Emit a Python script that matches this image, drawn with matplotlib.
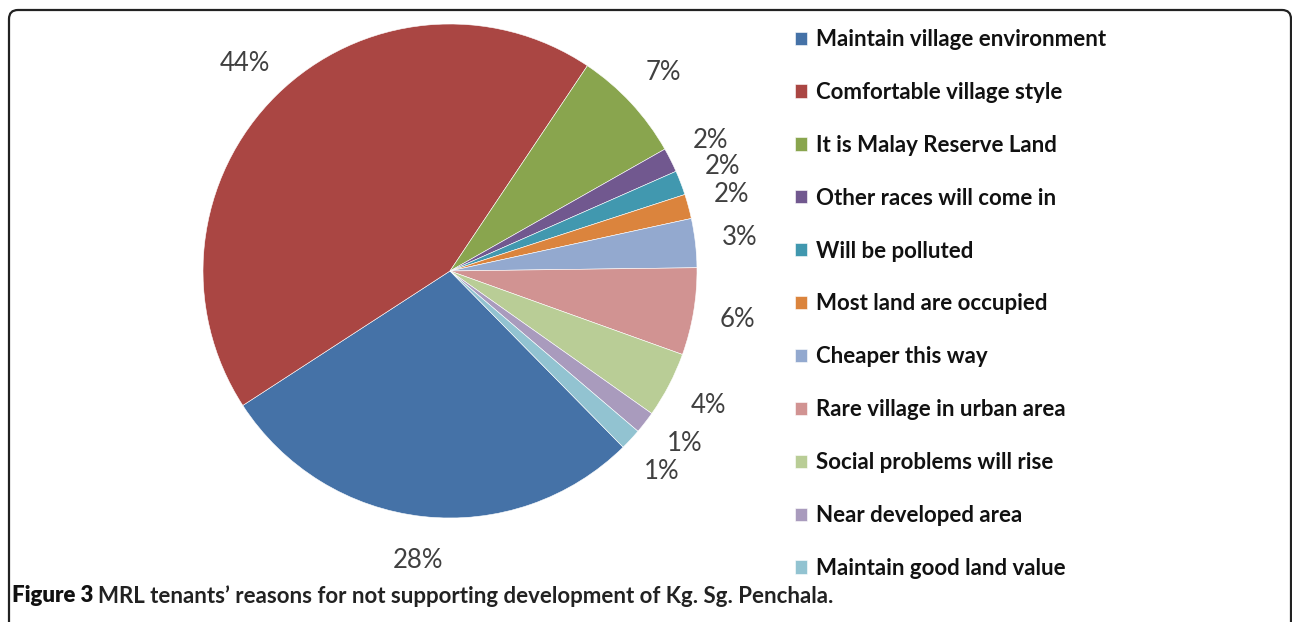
import matplotlib
matplotlib.use("Agg")
import numpy as np
import matplotlib.pyplot as plt
from matplotlib.patches import FancyBboxPatch
from matplotlib.transforms import IdentityTransform

categories = ["Maintain village environment", "Comfortable village style",
              "It is Malay Reserve Land", "Other races will come in",
              "Will be polluted", "Most land are occupied", "Cheaper this way",
              "Rare village in urban area", "Social problems will rise",
              "Near developed area", "Maintain good land value"]
values = [28.2, 43.55, 7.4, 1.6, 1.6, 1.6, 3.2, 5.7, 4.3, 1.45, 1.4]
colors = ["#4572A7", "#AA4643", "#89A54E", "#71588F", "#4198AF", "#DB843D",
          "#93A9CF", "#D19392", "#B9CD96", "#A99BBD", "#92C3D1"]
caption_bold = "Figure 3"
caption_rest = "MRL tenants\u2019 reasons for not supporting development of Kg. Sg. Penchala."

W, H = 1292, 622
fig = plt.figure(figsize=(W / 100, H / 100), dpi=100)
fig.patch.set_facecolor("white")

cx, cy, R = 450, 271, 247
PCT_DIST = 1.18
ax = fig.add_axes([(cx - R) / W, (H - cy - R) / H, 2 * R / W, 2 * R / H])
wedges, texts, autotexts = ax.pie(
    values, colors=colors, startangle=-45.5, counterclock=False,
    autopct=lambda p: f"{p:.0f}%", pctdistance=PCT_DIST,
    wedgeprops=dict(linewidth=0.4, edgecolor="white"),
    textprops=dict(fontsize=18.5, color="#404040", family="Lato"))
ax.set_xlim(-1, 1)
ax.set_ylim(-1, 1)
ax.axis("off")

# spread the two tiny neighbouring labels apart a little (angle nudges, degrees)
nudges = {9: 1.6, 10: -0.4}
for i, d in nudges.items():
    w = wedges[i]
    ang = np.deg2rad((w.theta1 + w.theta2) / 2 + d)
    autotexts[i].set_position((PCT_DIST * np.cos(ang), PCT_DIST * np.sin(ang)))

leg = fig.legend(wedges, categories, loc="upper left",
                 bbox_to_anchor=(795 / W, 1 - 29 / H), frameon=False,
                 borderpad=0, borderaxespad=0, handlelength=0.54,
                 handleheight=0.54, handletextpad=0.4, labelspacing=1.435,
                 prop=dict(family="Lato", weight="bold", size=16))
for t in leg.get_texts():
    t.set_color("#111111")

# border box (open at bottom)
box = FancyBboxPatch((9, -30), 1291 - 9, (H - 10) + 30,
                     boxstyle="round,pad=0,rounding_size=9",
                     transform=IdentityTransform(), fill=False,
                     edgecolor="#222222", linewidth=1.6, clip_on=False)
fig.add_artist(box)

t1 = fig.text(12 / W, 1 - 596 / H, caption_bold, ha="left", va="center",
              fontsize=16, weight="heavy", family="Lato", color="#111111")
fig.canvas.draw()
bb = t1.get_window_extent(fig.canvas.get_renderer())
fig.text((bb.x1 + 5) / W, 1 - 596 / H, caption_rest, ha="left", va="center",
         fontsize=16, weight="bold", family="Lato", color="#222222")

fig.savefig("out.png", dpi=100)
